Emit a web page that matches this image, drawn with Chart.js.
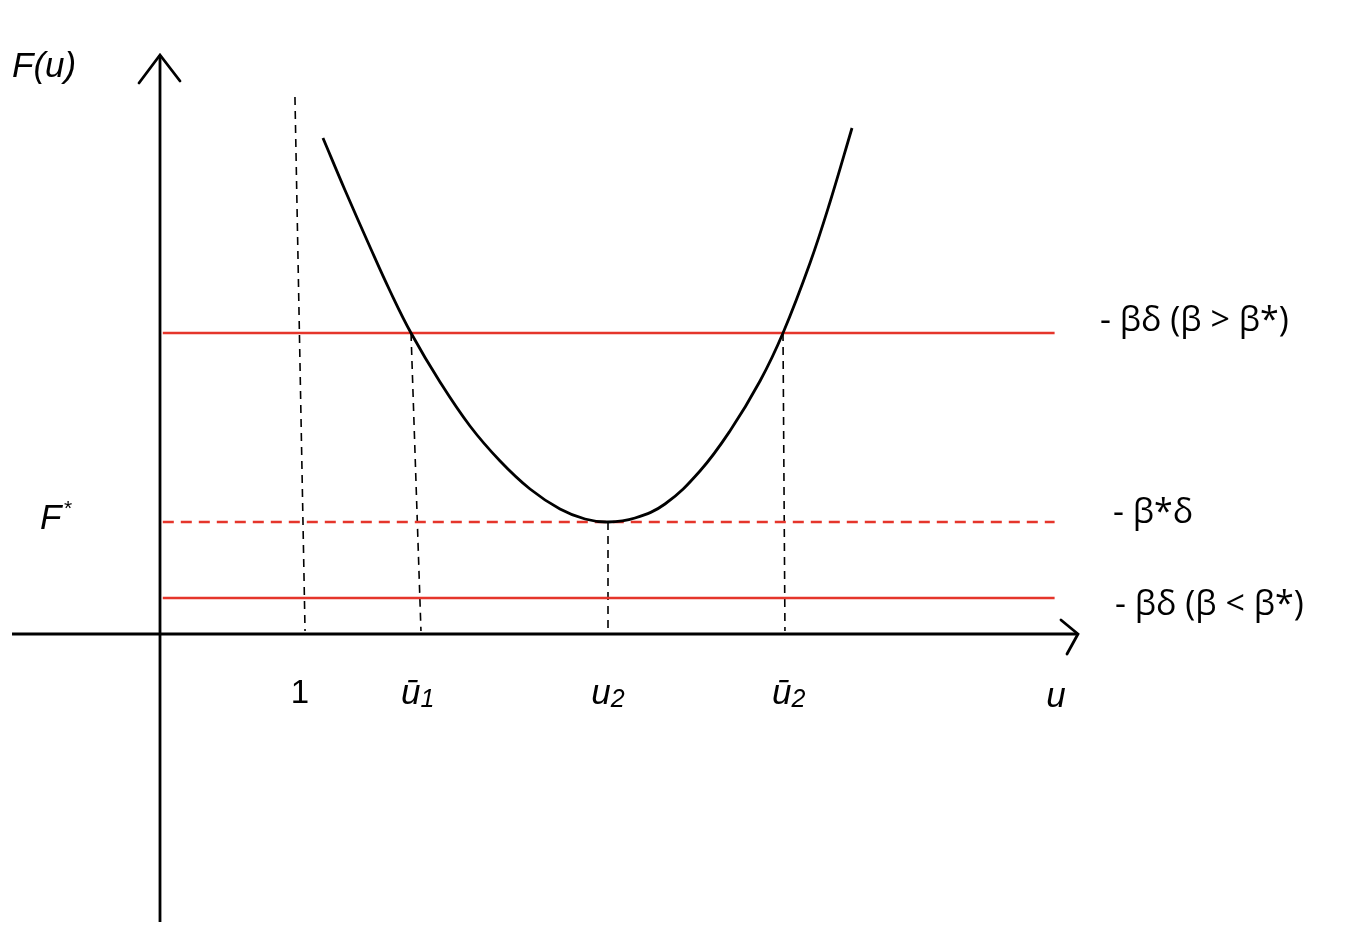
<!DOCTYPE html>
<html>
<head>
<meta charset="utf-8">
<script src="https://cdn.jsdelivr.net/npm/chart.js@4.4.1/dist/chart.umd.min.js"></script>
<style>
  html, body { margin: 0; padding: 0; background: #fff; }
  #wrap { width: 1365px; height: 943px; }
</style>
</head>
<body>
<div id="wrap"><canvas id="chart" width="1365" height="943"></canvas></div>
<script>
// F(u) curve
const curveU = [1.164, 1.321, 1.5, 1.643, 1.793, 2.0, 2.214, 2.429, 2.643, 2.857, 3.036, 3.2,
                3.393, 3.607, 3.857, 4.071, 4.286, 4.45, 4.643, 4.786, 4.943];
const curveF = [4.96, 4.44, 3.87, 3.43, 3.01, 2.52, 2.08, 1.73, 1.45, 1.25, 1.15, 1.12,
                1.16, 1.30, 1.63, 2.03, 2.53, 3.01, 3.71, 4.32, 5.06];

// horizontal levels
const levelNames = ['- βδ (β > β*)', '- β*δ', '- βδ (β < β*)'];
const levelValues = [3.01, 1.12, 0.36];
const levelStart = 0.02, levelEnd = 6.39;

// ticks on the u axis
const tickLabels = ['1', 'ū|1', 'u|2', 'ū|2'];
const tickValues = [1.0, 1.84, 3.2, 4.49];

// dashed guides: top end and foot on the axis
const guideTopU = [0.964, 1.793, 3.2, 4.45];
const guideTopF = [5.37, 3.01, 1.12, 3.01];
const guideFootU = [1.036, 1.864, 3.2, 4.464];
const guideFootF = 0.03;

// axes extent
const uAxis = [-1.057, 6.557];
const fAxis = [-2.88, 5.79];

const RED = '#e5352b';

const datasets = [];
datasets.push({
    data: curveU.map((u, i) => ({x: u, y: curveF[i]})),
    borderColor: '#000', borderWidth: 2.8, tension: 0.4
});
levelValues.forEach((v, i) => {
    datasets.push({
        data: [{x: levelStart, y: v}, {x: levelEnd, y: v}],
        borderColor: RED, borderWidth: 2.4,
        borderDash: i === 1 ? [11, 7] : []
    });
});
guideTopU.forEach((u, i) => {
    datasets.push({
        data: [{x: u, y: guideTopF[i]}, {x: guideFootU[i], y: guideFootF}],
        borderColor: '#000', borderWidth: 1.6, borderDash: [8, 6]
    });
});
datasets.push({
    data: [{x: uAxis[0], y: 0}, {x: uAxis[1], y: 0}],
    borderColor: '#000', borderWidth: 2.8
});
datasets.push({
    data: [{x: 0, y: fAxis[0]}, {x: 0, y: fAxis[1]}],
    borderColor: '#000', borderWidth: 2.8
});

// arrows and texts
const decorations = {
    id: 'decorations',
    afterDatasetsDraw(chart) {
        const ctx = chart.ctx;
        const xs = chart.scales.x, ys = chart.scales.y;
        const px = v => xs.getPixelForValue(v);
        const py = v => ys.getPixelForValue(v);
        ctx.save();
        ctx.strokeStyle = '#000';
        ctx.lineWidth = 2.8;
        ctx.lineCap = 'round';
        // arrow on u axis
        let ax = px(uAxis[1]), ay = py(0);
        ctx.beginPath();
        ctx.moveTo(ax - 17, ay - 14); ctx.lineTo(ax, ay); ctx.lineTo(ax - 11, ay + 20);
        ctx.stroke();
        // arrow on F axis
        ax = px(0); ay = py(fAxis[1]);
        ctx.beginPath();
        ctx.moveTo(ax - 21, ay + 28); ctx.lineTo(ax, ay); ctx.lineTo(ax + 20, ay + 26);
        ctx.stroke();

        ctx.fillStyle = '#000';
        ctx.textBaseline = 'middle';
        // F(u)
        ctx.textAlign = 'left';
        ctx.font = 'italic 35px "Liberation Sans", Arial, sans-serif';
        ctx.fillText('F(u)', 12, 67);
        // F*
        ctx.font = 'italic 35px "Liberation Sans", Arial, sans-serif';
        ctx.fillText('F', 40, py(levelValues[1]) - 3);
        ctx.font = '21px "Liberation Sans", Arial, sans-serif';
        ctx.fillText('*', 64, py(levelValues[1]) - 13);

        // ticks
        const tickY = py(0) + 60;
        tickLabels.forEach((t, i) => {
            const parts = t.split('|');
            if (parts.length === 1) {
                ctx.font = '33px "Liberation Sans", Arial, sans-serif';
                ctx.textAlign = 'center';
                ctx.fillText(parts[0], px(tickValues[i]), tickY);
                return;
            }
            const mainFont = 'italic 35px "Liberation Sans", Arial, sans-serif';
            const subFont = 'italic 25px "Liberation Sans", Arial, sans-serif';
            ctx.font = mainFont;
            const w1 = ctx.measureText(parts[0]).width;
            ctx.font = subFont;
            const w2 = ctx.measureText(parts[1]).width;
            const left = px(tickValues[i]) - (w1 + w2) / 2;
            ctx.textAlign = 'left';
            ctx.font = mainFont;
            ctx.fillText(parts[0], left, tickY);
            ctx.font = subFont;
            ctx.fillText(parts[1], left + w1, tickY + 6);
        });
        // u axis title
        ctx.font = 'italic 35px "Liberation Sans", Arial, sans-serif';
        ctx.textAlign = 'center';
        ctx.fillText('u', 1056, tickY + 3);

        // level labels
        ctx.textAlign = 'left';
        ctx.font = '34px "Open Sans", "Noto Sans", sans-serif';
        const labelX = [1100, 1113, 1115];
        const labelDy = [-12, -9, 7];
        levelNames.forEach((name, i) => {
            ctx.fillText(name, labelX[i], py(levelValues[i]) + labelDy[i]);
        });
        ctx.restore();
    }
};

new Chart(document.getElementById('chart'), {
    type: 'line',
    data: { datasets: datasets },
    options: {
        responsive: false,
        devicePixelRatio: 1,
        animation: false,
        events: [],
        layout: { padding: 0 },
        elements: { point: { radius: 0 } },
        plugins: { legend: { display: false }, tooltip: { enabled: false } },
        scales: {
            x: { type: 'linear', min: -160 / 140, max: 1205 / 140, display: false },
            y: { type: 'linear', min: -3.09, max: 6.34, display: false }
        }
    },
    plugins: [decorations]
});
</script>
</body>
</html>
